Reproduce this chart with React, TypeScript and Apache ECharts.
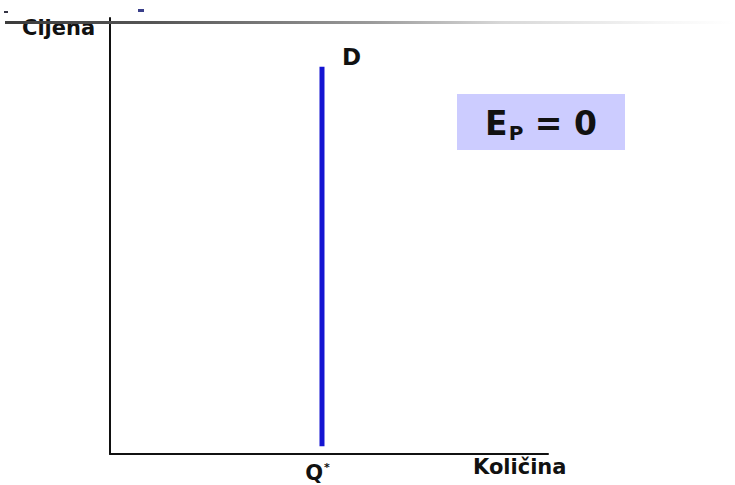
import React, { useEffect, useRef } from "react";
import * as echarts from "echarts";

// Data
const quantityQ = 48.4; // position of Q* on the quantity axis (0-100)
const demandPrices = [1.8, 88.8]; // vertical demand curve, price range
const axisMin = 0;
const axisMax = 100;
const qLabel = "Q*";
const curveLabel = "D";
const yName = "Cijena";
const xName = "Količina";
const elasticityText = "E_P = 0";

const FONT = "DejaVu Sans";

export default function App() {
  const ref = useRef<HTMLDivElement>(null);
  useEffect(() => {
    if (!ref.current) return;
    const chart = echarts.init(ref.current, undefined, { renderer: "svg" });
    const demandData = demandPrices.map((p) => [quantityQ, p]);
    chart.setOption({
      animation: false,
      backgroundColor: "#ffffff",
      grid: { left: 110, top: 18, right: 187, bottom: 31, containLabel: false },
      xAxis: {
        type: "value",
        min: axisMin,
        max: axisMax,
        axisLine: { show: true, lineStyle: { color: "#111", width: 2 } },
        axisTick: { show: false },
        splitLine: { show: false },
        axisLabel: {
          show: true,
          customValues: [quantityQ],
          margin: 8,
          padding: [0, 9, 0, 0],
          formatter: () => "{q|" + qLabel.charAt(0) + "}{s|" + qLabel.charAt(1) + "}",
          rich: {
            q: { fontFamily: FONT, fontWeight: "bold", fontSize: 21, color: "#111" },
            s: { fontFamily: FONT, fontWeight: "bold", fontSize: 11, color: "#111", verticalAlign: "top", padding: [0, 0, 10, 1] },
          },
        },
      },
      yAxis: {
        type: "value",
        min: axisMin,
        max: axisMax,
        axisLine: { show: true, onZero: false, lineStyle: { color: "#111", width: 2 } },
        axisTick: { show: false },
        splitLine: { show: false },
        axisLabel: { show: false },
      },
      series: [
        {
          type: "line",
          data: demandData,
          symbol: "circle",
          symbolSize: 0.1,
          showSymbol: true,
          lineStyle: { color: "#1414d2", width: 5 },
          itemStyle: { color: "#1414d2" },
          label: {
            show: true,
            formatter: (p: any) => (p.dataIndex === 1 ? curveLabel : ""),
            position: "right",
            distance: 20,
            offset: [0, -10],
            fontFamily: FONT,
            fontWeight: "bold",
            fontSize: 23,
            color: "#111",
          },
        },
      ],
      graphic: [
        {
          type: "text",
          left: 22,
          top: 17,
          z: 10,
          style: { text: yName, fontFamily: FONT, fontWeight: "bold", fontSize: 21, fill: "#111" },
        },
        {
          type: "rect",
          z: 20,
          shape: { x: 5, y: 21, width: 730, height: 3 },
          style: {
            fill: new echarts.graphic.LinearGradient(0, 0, 1, 0, [
              { offset: 0, color: "#3c3c3c" },
              { offset: 0.2, color: "#555555" },
              { offset: 0.5, color: "#9a9a9a" },
              { offset: 0.68, color: "#d8d8d8" },
              { offset: 0.9, color: "#f6f6f6" },
              { offset: 1, color: "#ffffff" },
            ]),
          },
        },
        { type: "rect", z: 20, shape: { x: 4, y: 11, width: 4, height: 2 }, style: { fill: "#334" } },
        { type: "rect", z: 20, shape: { x: 138, y: 9, width: 6, height: 3 }, style: { fill: "#3a3f8a" } },
        {
          type: "rect",
          z: 5,
          shape: { x: 457, y: 94, width: 168, height: 56 },
          style: { fill: "#ccccff" },
        },
        {
          type: "text",
          z: 6,
          x: 541,
          y: 123,
          style: {
            text: "{e|E}{p|P}{e| = 0}",
            align: "center",
            verticalAlign: "middle",
            rich: {
              e: { fontFamily: FONT, fontWeight: "bold", fontSize: 33, fill: "#111", lineHeight: 40, verticalAlign: "middle" },
              p: { fontFamily: FONT, fontWeight: "bold", fontSize: 20, fill: "#111", lineHeight: 40, verticalAlign: "bottom", padding: [10, 0, 0, 1] },
            },
          },
        },
        {
          type: "text",
          left: 473,
          top: 456,
          style: { text: xName, fontFamily: FONT, fontWeight: "bold", fontSize: 21, fill: "#111" },
        },
      ],
    });
    return () => chart.dispose();
  }, []);
  return (
    <div
      ref={ref}
      style={{ position: "fixed", left: 0, top: 0, width: 735, height: 485 }}
      data-note={elasticityText}
    />
  );
}
